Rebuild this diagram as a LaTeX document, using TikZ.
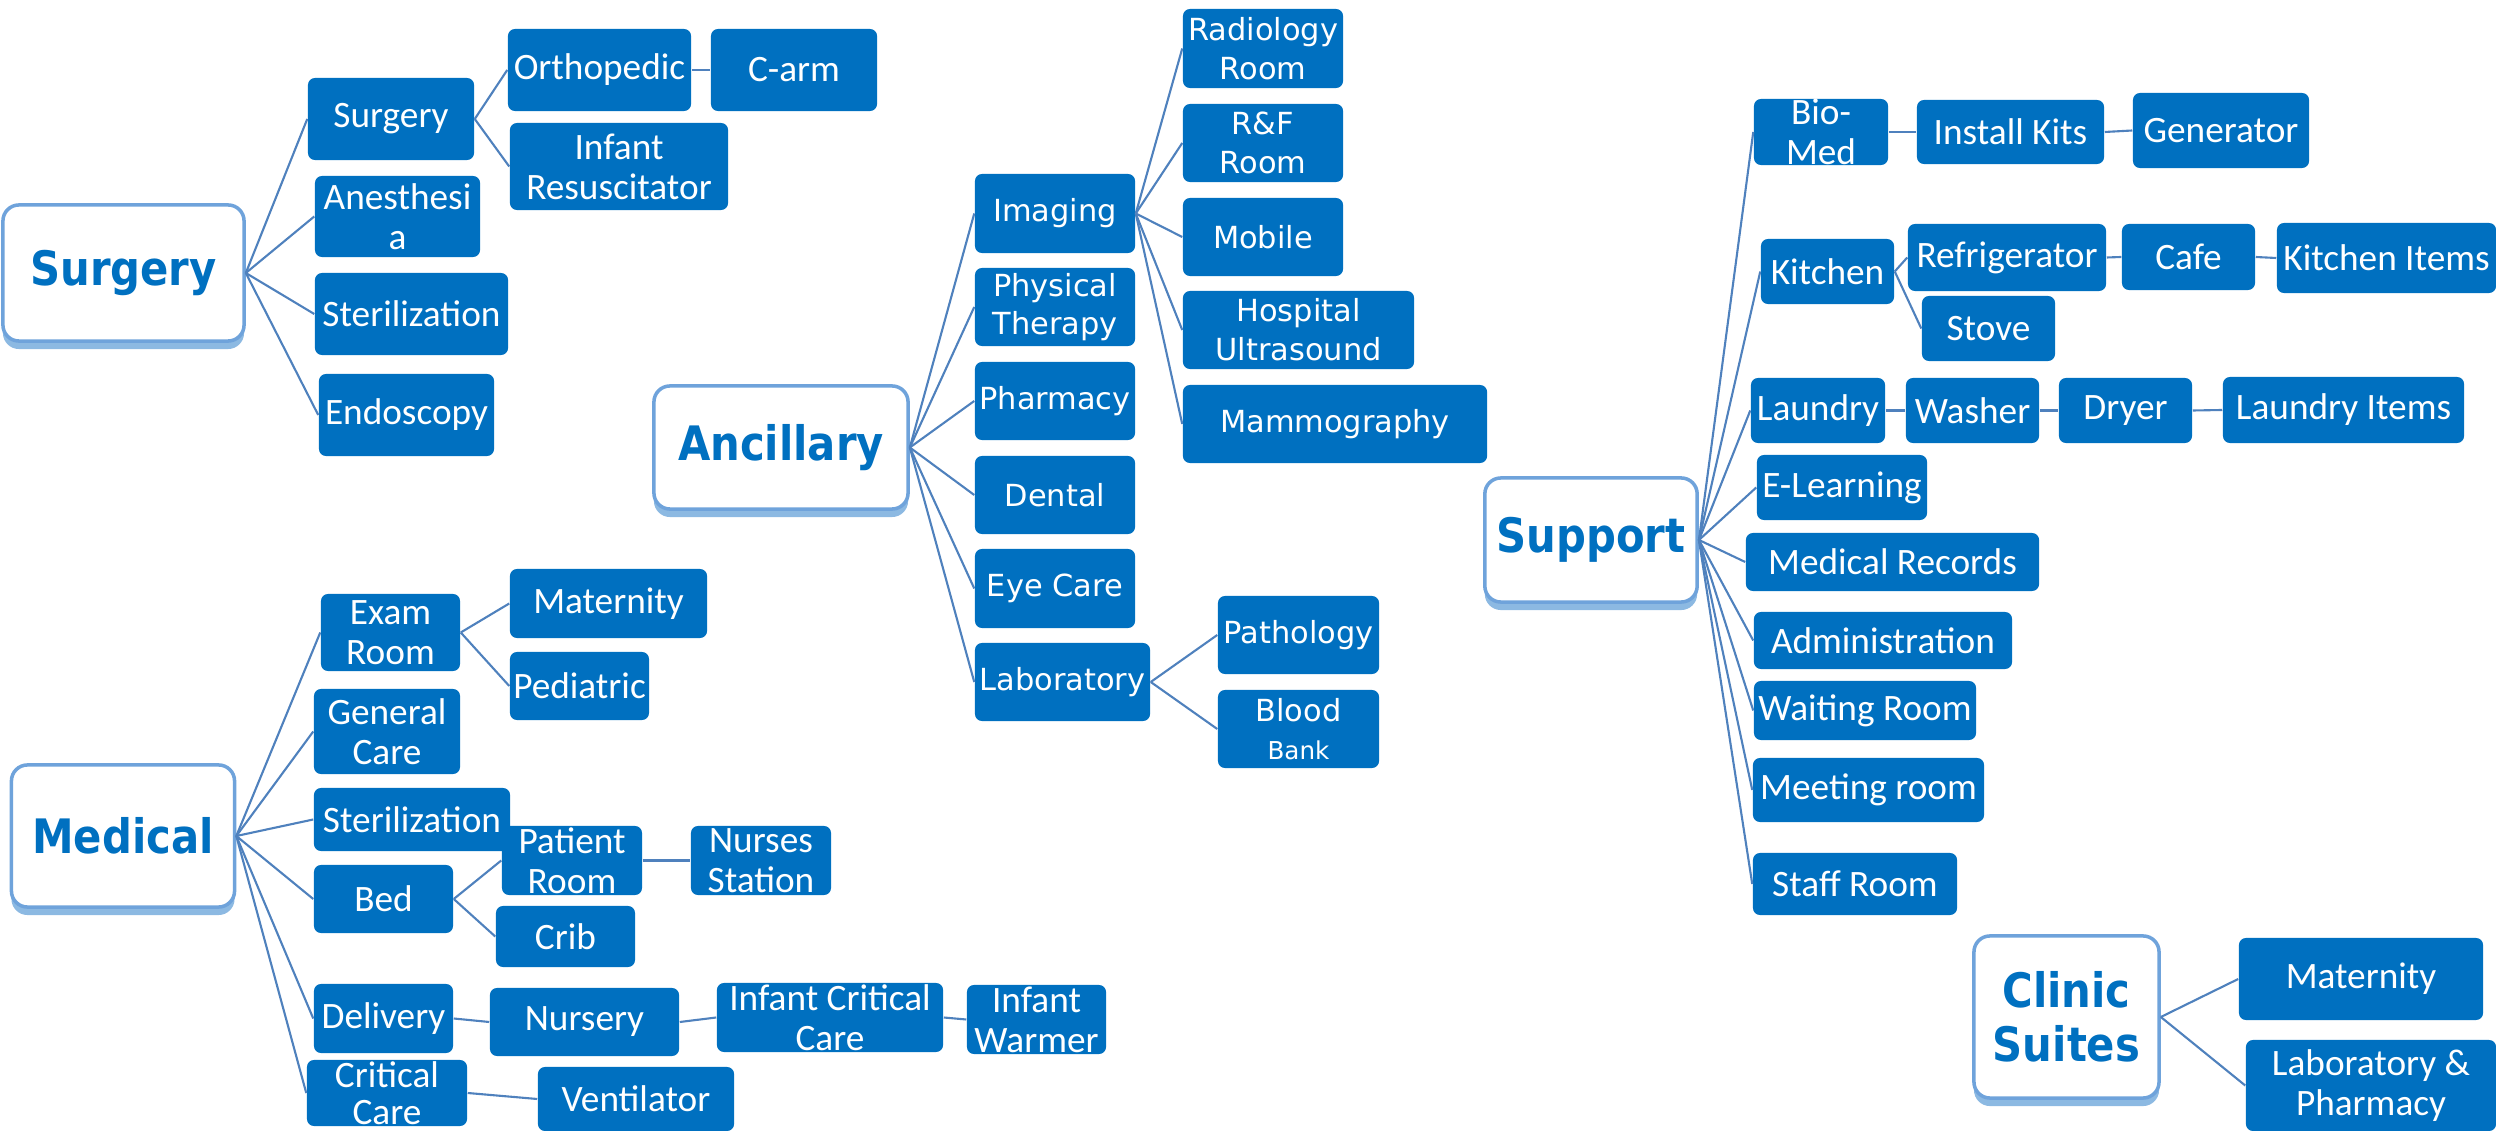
\documentclass[tikz,border=0pt]{standalone}
\usepackage{fontspec}
\setmainfont{Carlito}
\newfontfamily\ancfont{DejaVu Sans}
\newfontfamily\rootfont{DejaVu Sans}[FakeStretch=0.88]
\usetikzlibrary{shadows}
\definecolor{boxblue}{HTML}{0070C0}
\definecolor{linkblue}{HTML}{4F81BD}
\definecolor{rimblue}{HTML}{6FA3DB}
\definecolor{shadeblue}{HTML}{5B9BD5}
\begin{document}
\begin{tikzpicture}[x=0.01cm, y=-0.01cm,
    root/.style={draw=rimblue, line width=1pt, fill=white, rounded corners=0.16cm,
      text=boxblue, align=center, font=\rootfont\bfseries\fontsize{13.5}{15.5}\selectfont,
      drop shadow={shadow xshift=0pt, shadow yshift=-0.08cm, fill=shadeblue, opacity=0.7}},
    leaf/.style={fill=boxblue, rounded corners=0.07cm, text=white, align=center,
      inner sep=0pt, font=\fontsize{10.6}{11.4}\selectfont},
    anc/.style={leaf, font=\ancfont\fontsize{8.65}{11}\selectfont},
    sz/.style 2 args={minimum width=#1cm, minimum height=#2cm},
    link/.style={linkblue, line width=0.6pt}]
  \useasboundingbox (0,0) rectangle (2496,1131);

  \node[root, sz={2.41}{1.36}] (surg) at (123.5,273) {Surgery};
  \node[root, sz={2.54}{1.23}] (anc) at (781,447.5) {Ancillary};
  \node[root, sz={2.23}{1.42}] (med) at (123,836) {Medical};
  \node[root, sz={2.08}{1.24}] (sup) at (1591,540) {Support};
  \node[root, sz={1.85}{1.62}] (cli) at (2066.5,1017) {Clinic\\Suites};

  \node[leaf, sz={1.66}{0.82}] (surgS) at (391,119) {Surgery};
  \node[leaf, sz={1.83}{0.82}] (ortho) at (599.5,70) {Orthopedic};
  \node[leaf, sz={1.66}{0.82}] (carm) at (794,70) {C-arm};
  \node[leaf, sz={2.18}{0.87}] (infres) at (619,166.5) {Infant\\Resuscitator};
  \node[leaf, sz={1.65}{0.81}] (anes) at (397.5,216.5) {Anesthesi\\a};
  \node[leaf, sz={1.93}{0.82}] (sterS) at (411.5,314) {Sterilization};
  \node[leaf, sz={1.75}{0.82}] (endo) at (406.5,415) {Endoscopy};

  \node[anc, sz={1.60}{0.79}] (img) at (1055,213.5) {Imaging};
  \node[anc, sz={1.60}{0.78}] (phys) at (1055,307) {Physical\\Therapy};
  \node[anc, sz={1.60}{0.78}] (pharm) at (1055,401) {Pharmacy};
  \node[anc, sz={1.60}{0.78}] (dent) at (1055,495) {Dental};
  \node[anc, sz={1.60}{0.79}] (eye) at (1055,588.5) {Eye Care};
  \node[anc, sz={1.75}{0.78}] (lab) at (1062.5,682) {Laboratory};
  \node[anc, sz={1.60}{0.79}] (radio) at (1263,48.5) {Radiology\\Room};
  \node[anc, sz={1.60}{0.78}] (rf) at (1263,143) {R\&F\\Room};
  \node[anc, sz={1.60}{0.78}] (mob) at (1263,237) {Mobile};
  \node[anc, sz={2.31}{0.78}] (ultra) at (1298.5,330) {Hospital\\Ultrasound};
  \node[anc, sz={3.04}{0.78}] (mammo) at (1335,424) {Mammography};
  \node[anc, sz={1.61}{0.78}] (path) at (1298.5,635) {Pathology};
  \node[anc, sz={1.61}{0.78}] (blood) at (1298.5,729) {Blood\\{\fontsize{7}{8}\selectfont Bank}};

  \node[leaf, sz={1.39}{0.77}] (exam) at (390.5,632.5) {Exam\\Room};
  \node[leaf, sz={1.97}{0.69}] (matM) at (608.5,603.5) {Maternity};
  \node[leaf, sz={1.39}{0.68}] (ped) at (579.5,686) {Pediatric};
  \node[leaf, sz={1.46}{0.85}] (gen) at (387,731.5) {General\\Care};
  \node[leaf, sz={1.96}{0.63}] (sterM) at (412,819.5) {Sterilization};
  \node[leaf, sz={1.39}{0.68}] (bed) at (383.5,899) {Bed};
  \node[leaf, sz={1.40}{0.69}] (patrm) at (572,860.5) {Patient\\Room};
  \node[leaf, sz={1.40}{0.69}] (nurst) at (761,860.5) {Nurses\\Station};
  \node[leaf, sz={1.39}{0.61}] (crib) at (565.5,936.5) {Crib};
  \node[leaf, sz={1.39}{0.69}] (deliv) at (383.5,1018.5) {Delivery};
  \node[leaf, sz={1.89}{0.68}] (nurs) at (584.5,1022) {Nursery};
  \node[leaf, sz={2.26}{0.69}] (icc) at (830,1017.5) {Infant Critical\\Care};
  \node[leaf, sz={1.39}{0.69}] (warm) at (1036.5,1019.5) {Infant\\Warmer};
  \node[leaf, sz={1.60}{0.66}, font=\fontsize{10.6}{10.4}\selectfont] (crit) at (387,1093) {Critical\\Care};
  \node[leaf, sz={1.96}{0.64}] (vent) at (636,1099) {Ventilator};

  \node[leaf, sz={1.34}{0.66}] (bio) at (1821,132) {Bio-\\Med};
  \node[leaf, sz={1.87}{0.64}] (kits) at (2010.5,132) {Install Kits};
  \node[leaf, sz={1.76}{0.75}] (genr) at (2221,130.5) {Generator};
  \node[leaf, sz={1.33}{0.65}] (kit) at (1827.5,271.5) {Kitchen};
  \node[leaf, sz={1.98}{0.67}] (fridge) at (2007,257.5) {Refrigerator};
  \node[leaf, sz={1.33}{0.66}] (cafe) at (2188.5,257) {Cafe};
  \node[leaf, sz={2.19}{0.70}] (kitem) at (2386.5,258) {Kitchen Items};
  \node[leaf, sz={1.33}{0.65}] (stove) at (1988.5,328.5) {Stove};
  \node[leaf, sz={1.34}{0.65}] (laun) at (1818,410.5) {Laundry};
  \node[leaf, sz={1.33}{0.65}] (wash) at (1972.5,410.5) {Washer};
  \node[leaf, sz={1.33}{0.65}] (dry) at (2125.5,410.5) {Dryer};
  \node[leaf, sz={2.41}{0.66}] (litem) at (2343.5,410) {Laundry Items};
  \node[leaf, sz={1.70}{0.65}] (elrn) at (1842,487.5) {E-Learning};
  \node[leaf, sz={2.93}{0.58}] (rec) at (1892.5,562) {Medical Records};
  \node[leaf, sz={2.58}{0.57}] (adm) at (1883,640.5) {Administration};
  \node[leaf, sz={2.22}{0.59}] (wait) at (1865,710.5) {Waiting Room};
  \node[leaf, sz={2.31}{0.64}] (meet) at (1868.5,790) {Meeting room};
  \node[leaf, sz={2.04}{0.62}] (staff) at (1855,884) {Staff Room};

  \node[leaf, sz={2.44}{0.82}] (cmat) at (2361,979) {Maternity};
  \node[leaf, sz={2.50}{0.91}] (clp) at (2371,1085.5) {Laboratory \&\\Pharmacy};

  \begin{scope}[link]
    \draw (surg.east) to (surgS.west);
    \draw (surg.east) to (anes.west);
    \draw (surg.east) to (sterS.west);
    \draw (surg.east) to (endo.west);
    \draw (surgS.east) to (ortho.west);
    \draw (surgS.east) to (infres.west);
    \draw (ortho.east) to (carm.west);
    \draw (anc.east) to (img.west);
    \draw (anc.east) to (phys.west);
    \draw (anc.east) to (pharm.west);
    \draw (anc.east) to (dent.west);
    \draw (anc.east) to (eye.west);
    \draw (anc.east) to (lab.west);
    \draw (img.east) to (radio.west);
    \draw (img.east) to (rf.west);
    \draw (img.east) to (mob.west);
    \draw (img.east) to (ultra.west);
    \draw (img.east) to (mammo.west);
    \draw (lab.east) to (path.west);
    \draw (lab.east) to (blood.west);
    \draw (med.east) to (exam.west);
    \draw (med.east) to (gen.west);
    \draw (med.east) to (sterM.west);
    \draw (med.east) to (bed.west);
    \draw (med.east) to (deliv.west);
    \draw (med.east) to (crit.west);
    \draw (exam.east) to (matM.west);
    \draw (exam.east) to (ped.west);
    \draw (bed.east) to (patrm.west);
    \draw (bed.east) to (crib.west);
    \draw (patrm.east) to (nurst.west);
    \draw (deliv.east) to (nurs.west);
    \draw (nurs.east) to (icc.west);
    \draw (icc.east) to (warm.west);
    \draw (crit.east) to (vent.west);
    \draw (sup.east) to (bio.west);
    \draw (sup.east) to (kit.west);
    \draw (sup.east) to (laun.west);
    \draw (sup.east) to (elrn.west);
    \draw (sup.east) to (rec.west);
    \draw (sup.east) to (adm.west);
    \draw (sup.east) to (wait.west);
    \draw (sup.east) to (meet.west);
    \draw (sup.east) to (staff.west);
    \draw (bio.east) to (kits.west);
    \draw (kits.east) to (genr.west);
    \draw (kit.east) to (fridge.west);
    \draw (kit.east) to (stove.west);
    \draw (fridge.east) to (cafe.west);
    \draw (cafe.east) to (kitem.west);
    \draw (laun.east) to (wash.west);
    \draw (wash.east) to (dry.west);
    \draw (dry.east) to (litem.west);
    \draw (cli.east) to (cmat.west);
    \draw (cli.east) to (clp.west);
  \end{scope}
\end{tikzpicture}
\end{document}
